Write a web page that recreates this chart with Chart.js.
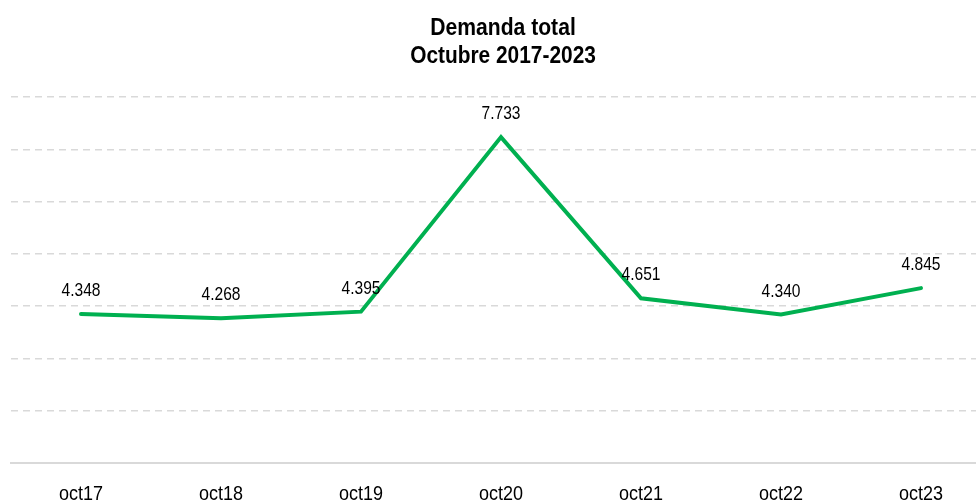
<!DOCTYPE html>
<html>
<head>
<meta charset="utf-8">
<script src="https://cdn.jsdelivr.net/npm/chart.js@4/dist/chart.umd.min.js"></script>
<style>
  html, body { margin: 0; padding: 0; background: #fff; overflow: hidden; width: 976px; height: 500px; }
  #wrap { width: 1002px; height: 500px; }
</style>
</head>
<body>
<div id="wrap"><canvas id="c" width="1002" height="500"></canvas></div>
<script>
const categories = ['oct17', 'oct18', 'oct19', 'oct20', 'oct21', 'oct22', 'oct23'];
const demanda = [4348, 4268, 4395, 7733, 4651, 4340, 4845];
const yTicks = [1500, 2500, 3500, 4500, 5500, 6500, 7500, 8500];
const titleLines = ['Demanda total', 'Octubre 2017-2023'];

const FONT = '"Liberation Sans", Arial, sans-serif';

function fmt(v) {
  return String(v).replace(/\B(?=(\d{3})+(?!\d))/g, '.');
}

function drawScaled(ctx, text, x, y, sx) {
  ctx.save();
  ctx.translate(x, y);
  ctx.scale(sx, 1);
  ctx.fillText(text, 0, 0);
  ctx.restore();
}

const textPlugin = {
  id: 'textPlugin',
  afterDraw(chart) {
    const ctx = chart.ctx;
    const meta = chart.getDatasetMeta(0);
    const xScale = chart.scales.x;
    ctx.save();
    ctx.fillStyle = '#000';
    ctx.textAlign = 'center';
    ctx.textBaseline = 'alphabetic';

    // title
    ctx.font = 'bold 24px ' + FONT;
    const cx = (chart.chartArea.left + chart.chartArea.right) / 2 + 2;
    drawScaled(ctx, titleLines[0], cx, 35, 0.88);
    drawScaled(ctx, titleLines[1], cx, 63, 0.87);

    // value labels
    ctx.font = '19px ' + FONT;
    meta.data.forEach((pt, i) => {
      drawScaled(ctx, fmt(chart.data.datasets[0].data[i]), pt.x, pt.y - 18, 0.82);
    });

    // category labels
    ctx.font = '20px ' + FONT;
    categories.forEach((lab, i) => {
      drawScaled(ctx, lab, xScale.getPixelForValue(i), 500, 0.9);
    });
    ctx.restore();
  }
};

new Chart(document.getElementById('c'), {
  type: 'line',
  data: {
    labels: categories,
    datasets: [{
      data: demanda,
      borderColor: '#00B050',
      backgroundColor: '#00B050',
      borderWidth: 4,
      pointRadius: 0,
      tension: 0,
      borderCapStyle: 'round',
      fill: false
    }]
  },
  options: {
    responsive: false,
    animation: false,
    devicePixelRatio: 1,
    layout: { padding: { left: 11, right: 11, top: 97, bottom: 0 } },
    plugins: {
      legend: { display: false },
      tooltip: { enabled: false },
      title: { display: false }
    },
    scales: {
      x: {
        offset: true,
        grid: { display: false, drawTicks: false },
        border: { display: true, color: '#d9d9d9', width: 2 },
        ticks: { display: false },
        afterFit(axis) { axis.height = 37; }
      },
      y: {
        min: 1500,
        max: 8500,
        afterBuildTicks(axis) { axis.ticks = yTicks.map(v => ({ value: v })); },
        grid: {
          drawTicks: false,
          color: (c) => (c.tick && c.tick.value === 1500) ? 'rgba(0,0,0,0)' : '#d9d9d9',
          lineWidth: 1.5
        },
        border: { display: false, dash: [7, 5] },
        ticks: { display: false },
        afterFit(axis) { axis.width = 0; }
      }
    }
  },
  plugins: [textPlugin]
});
</script>
</body>
</html>
